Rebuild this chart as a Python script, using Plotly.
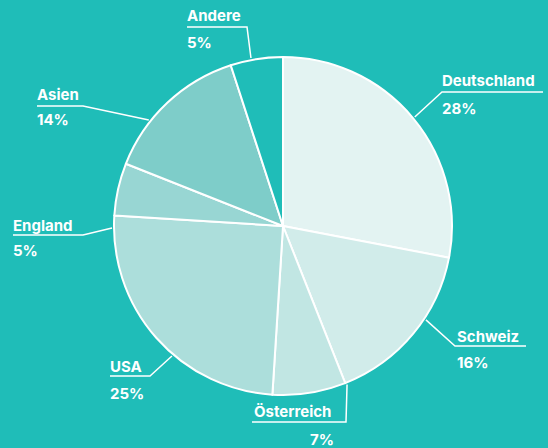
import math
import plotly.graph_objects as go

# ---- data ----
categories = ["Deutschland", "Schweiz", "Österreich", "USA", "England", "Asien", "Andere"]
shares = [28, 16, 7, 25, 5, 14, 5]
pct_labels = ["28%", "16%", "7%", "25%", "5%", "14%", "5%"]

# ---- style / layout ----
BG = "#1fbdb8"
slice_colors = ["#e3f3f2", "#d1ecea", "#c1e6e3", "#acdedb", "#98d6d3", "#7ecdc9", BG]
W, H = 548, 448
CX, CY, R = 283, 226, 169

# label layout: leader start angle (deg, clockwise from 12 o'clock), elbow point,
# underline end x, name centre y, percent centre y, percent x / anchor
label_layout = [
    dict(ang=50.4, elbow=(442, 92), end=543, tx=440, ny=81, py=108, px=440, pa="left"),
    dict(ang=123.3, elbow=(455, 346), end=526, tx=455, ny=336, py=362, px=455, pa="left"),
    dict(ang=158.0, elbow=(346, 422), end=252, tx=252, ny=411, py=439, px=336, pa="right"),
    dict(ang=220.5, elbow=(150, 376), end=110, tx=108, ny=366, py=393, px=108, pa="left"),
    dict(ang=269.3, elbow=(83, 235), end=13, tx=11, ny=225, py=251, px=11, pa="left"),
    dict(ang=308.3, elbow=(83, 106), end=37, tx=35, ny=94, py=120, px=35, pa="left"),
    dict(ang=349.2, elbow=(247, 27), end=187, tx=185, ny=15, py=42, px=185, pa="left"),
]

def fx(x):
    return x / W

def fy(y):
    return 1 - y / H

fig = go.Figure(go.Pie(
    labels=categories,
    values=shares,
    sort=False,
    direction="clockwise",
    rotation=0,
    textinfo="none",
    hoverinfo="label+percent",
    marker=dict(colors=slice_colors, line=dict(color="white", width=2)),
    domain=dict(x=[fx(CX - R), fx(CX + R)], y=[fy(CY + R), fy(CY - R)]),
    showlegend=False,
))

font = dict(family="Inter, Roboto, sans-serif", size=15, color="white", weight="bold")
shapes, annotations = [], []
for name, pct, lay in zip(categories, pct_labels, label_layout):
    a = math.radians(lay["ang"])
    sx = CX + (R + 2) * math.sin(a)
    sy = CY - (R + 2) * math.cos(a)
    ex, ey = lay["elbow"]
    path = f"M {fx(sx)} {fy(sy)} L {fx(ex)} {fy(ey)} L {fx(lay['end'])} {fy(ey)}"
    shapes.append(dict(type="path", xref="paper", yref="paper", path=path,
                       line=dict(color="white", width=1.5)))
    annotations.append(dict(x=fx(lay["tx"]), y=fy(lay["ny"]), xref="paper", yref="paper",
                            text=name, showarrow=False, xanchor="left", yanchor="middle",
                            font=font))
    annotations.append(dict(x=fx(lay["px"]), y=fy(lay["py"]), xref="paper", yref="paper",
                            text=pct, showarrow=False, xanchor=lay["pa"], yanchor="middle",
                            font=font))

fig.update_layout(
    width=W, height=H,
    margin=dict(l=0, r=0, t=0, b=0),
    paper_bgcolor=BG, plot_bgcolor=BG,
    shapes=shapes, annotations=annotations,
)

fig.write_html(
    "out.html",
    config={"displayModeBar": False},
    post_script="document.body.style.margin='0';document.body.style.overflow='hidden';"
                "document.documentElement.style.background='" + BG + "';",
)
